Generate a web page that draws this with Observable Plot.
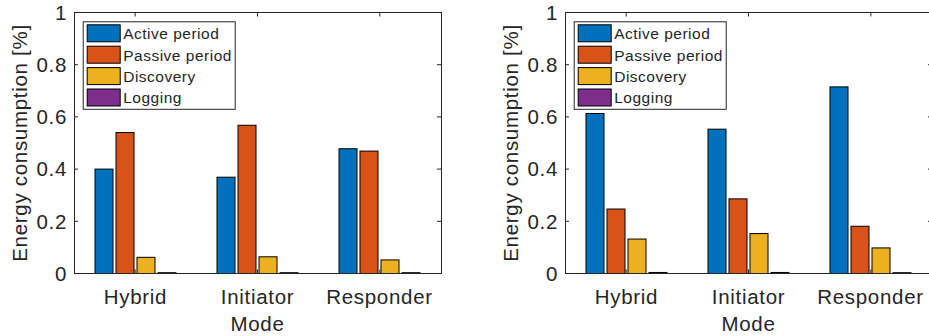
<!DOCTYPE html>
<html><head><meta charset="utf-8">
<script src="https://cdn.jsdelivr.net/npm/d3@7"></script>
<script src="https://cdn.jsdelivr.net/npm/@observablehq/plot@0.6"></script>
<style>
html,body{margin:0;padding:0;background:#fff;overflow:hidden;}
#wrap{position:relative;width:929px;height:336px;overflow:hidden;background:#fff;}
.panel{position:absolute;top:0;}
</style></head><body><div id="wrap"></div>
<script>
const modes = ["Hybrid", "Initiator", "Responder"];
const series = ["Active period", "Passive period", "Discovery", "Logging"];
const colors = ["#0072BD", "#D95319", "#EDB120", "#7E2F8E"];
// left panel values (per mode)
const leftActive = [0.400, 0.369, 0.478];
const leftPassive = [0.540, 0.568, 0.469];
const leftDiscovery = [0.062, 0.064, 0.052];
const leftLogging = [0.003, 0.003, 0.003];
// right panel values (per mode)
const rightActive = [0.613, 0.553, 0.715];
const rightPassive = [0.247, 0.286, 0.181];
const rightDiscovery = [0.132, 0.153, 0.098];
const rightLogging = [0.004, 0.004, 0.003];
const yTicks = [0, 0.2, 0.4, 0.6, 0.8, 1];
const yTickLabels = ["0", "0.2", "0.4", "0.6", "0.8", "1"];
const xLabel = "Mode";
const yLabel = "Energy consumption [%]";

const AX = "#262626";
const FONT = "'Liberation Sans', Arial, Helvetica, sans-serif";

function makePanel(arrays, leftPx) {
  const rows = modes.flatMap((m, i) => series.map((s, k) => ({mode: m, series: s, value: arrays[k][i]})));
  const W = 465, H = 336, mL = 74, mR = 24, mT = 12.5, mB = 62.5;
  const fxPadIn = 0.31, fxPadOut = 0.155;
  const svg = Plot.plot({
    width: W, height: H,
    marginLeft: mL, marginRight: mR, marginTop: mT, marginBottom: mB,
    facet: {data: rows, x: "mode", marginTop: 0, marginBottom: 0, marginLeft: 0, marginRight: 0},
    fx: {domain: modes, paddingInner: fxPadIn, paddingOuter: fxPadOut, axis: "bottom", tickSize: 0, tickPadding: 15, label: null},
    x: {domain: series, paddingInner: 0.164, paddingOuter: 0, axis: null},
    y: {domain: [0, 1], axis: null},
    color: {domain: series, range: colors},
    style: {fontFamily: FONT, fontSize: "20.5px", color: AX, background: "white", letterSpacing: "0.7px", overflow: "visible"},
    marks: [
      Plot.barY(rows, {x: "series", y: "value", fill: "series", stroke: "#000", strokeWidth: 1, insetLeft: 0, insetRight: 0})
    ]
  });
  const sy = svg.scale("y");
  const y = d3.scaleLinear(sy.domain, sy.range);
  const x0 = mL, x1 = W - mR, y0 = H - mB, y1 = mT;
  const band = d3.scaleBand(modes, [x0, x1]).paddingInner(fxPadIn).paddingOuter(fxPadOut);
  const s = d3.select(svg);
  // x ticks under the bars
  const under = s.insert("g", ":first-child").attr("stroke", AX).attr("stroke-width", 1);
  modes.forEach(m => {
    const cx = band(m) + band.bandwidth() / 2;
    under.append("line").attr("x1", cx).attr("x2", cx).attr("y1", y0).attr("y2", y0 - 4);
    under.append("line").attr("x1", cx).attr("x2", cx).attr("y1", y1).attr("y2", y1 + 4);
  });
  const g = s.append("g").attr("stroke", AX).attr("stroke-width", 1).attr("fill", "none");
  g.append("rect").attr("x", x0 + 0.5).attr("y", y1).attr("width", x1 - x0).attr("height", y0 - y1);
  const yt = s.append("g").attr("fill", AX).attr("text-anchor", "end");
  yTicks.forEach((v, i) => {
    const yy = y(v);
    g.append("line").attr("x1", x0).attr("x2", x0 + 4).attr("y1", yy).attr("y2", yy);
    g.append("line").attr("x1", x1 - 4).attr("x2", x1).attr("y1", yy).attr("y2", yy);
    yt.append("text").text(yTickLabels[i]).attr("x", x0 - 7).attr("y", yy).attr("dy", "0.36em");
  });
  // axis labels
  s.append("text").text(xLabel).attr("x", (x0 + x1) / 2).attr("y", 331)
    .attr("text-anchor", "middle").attr("fill", AX);
  s.append("text").text(yLabel).attr("transform", `translate(26.5,${(y0 + y1) / 2}) rotate(-90)`)
    .attr("text-anchor", "middle").attr("fill", AX);
  // legend
  const lg = s.append("g").attr("transform", `translate(${x0 + 8.7},${y1 + 8.8})`).attr("text-anchor", "start");
  lg.append("rect").attr("x", 0.5).attr("y", 0.5).attr("width", 152).attr("height", 87.5)
    .attr("fill", "white").attr("stroke", AX).attr("stroke-width", 1);
  series.forEach((name, k) => {
    const ty = 3 + k * 21.4;
    lg.append("rect").attr("x", 4.5).attr("y", ty + 0.5).attr("width", 33).attr("height", 17)
      .attr("fill", colors[k]).attr("stroke", "#000").attr("stroke-width", 1);
    lg.append("text").text(name).attr("x", 40.5).attr("y", ty + 15)
      .attr("fill", AX).style("font-size", "15.5px").style("letter-spacing", "0.5px");
  });
  svg.classList.add("panel");
  svg.style.left = leftPx + "px";
  document.getElementById("wrap").appendChild(svg);
}

makePanel([leftActive, leftPassive, leftDiscovery, leftLogging], 0);
makePanel([rightActive, rightPassive, rightDiscovery, rightLogging], 491);
</script>
</body></html>
